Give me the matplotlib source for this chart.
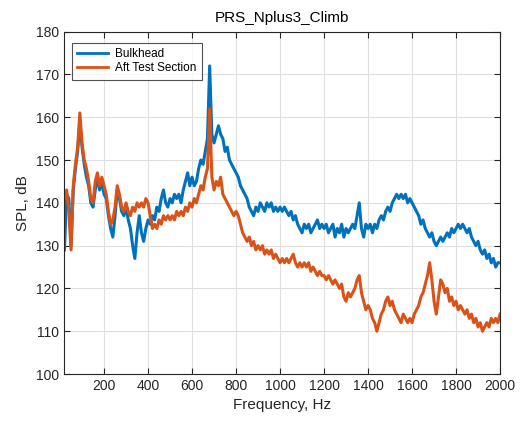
import numpy as np
from matplotlib import pyplot as plt

plt.rcParams['font.family'] = ['Liberation Sans', 'DejaVu Sans']

freq = np.arange(20, 2001, 10)

bulkhead = [129, 142, 141, 130, 143, 148, 152, 159, 153, 149,
            146, 144, 140, 139, 143, 146, 143, 145, 142, 141,
            137, 134, 132, 137, 143, 141, 138, 137, 139, 136,
            134, 130, 127, 133, 137, 133, 131, 134, 136, 135,
            137, 136, 139, 138, 141, 143, 140, 139, 141, 140,
            142, 141, 142, 140, 143, 145, 147, 144, 146, 144,
            145, 148, 150, 149, 152, 155, 172, 156, 154, 156,
            158, 156, 155, 152, 153, 150, 149, 148, 147, 146,
            144, 143, 142, 141, 139, 138, 137, 139, 138, 140,
            139, 138, 140, 139, 140, 138, 139, 138, 139, 138,
            139, 138, 137, 138, 136, 137, 135, 134, 133, 135,
            134, 135, 133, 134, 135, 136, 134, 135, 134, 135,
            133, 134, 135, 132, 134, 133, 135, 132, 134, 133,
            134, 135, 134, 137, 140, 134, 132, 135, 134, 135,
            133, 135, 134, 136, 137, 136, 138, 139, 138, 140,
            141, 142, 141, 142, 141, 142, 140, 141, 140, 139,
            138, 137, 135, 136, 134, 133, 132, 133, 131, 130,
            131, 132, 131, 132, 133, 132, 134, 133, 134, 135,
            134, 135, 134, 133, 134, 132, 131, 130, 131, 129,
            128, 129, 127, 128, 126, 127, 125, 126, 126]

aft = [141, 143, 138, 129, 144, 149, 153, 161, 154, 150,
       148, 145, 141, 140, 145, 147, 144, 146, 144, 142,
       138, 135, 136, 139, 144, 142, 139, 138, 140, 138,
       137, 139, 138, 140, 139, 140, 139, 141, 140, 137,
       134, 135, 134, 136, 135, 137, 136, 137, 136, 137,
       136, 138, 137, 138, 137, 139, 138, 140, 139, 141,
       140, 142, 144, 143, 146, 148, 162, 146, 143, 145,
       144, 146, 142, 141, 140, 139, 138, 137, 138, 137,
       135, 133, 132, 131, 132, 130, 131, 129, 130, 129,
       130, 128, 129, 128, 129, 127, 128, 127, 126, 127,
       126, 127, 126, 127, 128, 126, 125, 126, 125, 126,
       125, 126, 124, 125, 124, 123, 124, 123, 123, 122,
       123, 122, 121, 122, 121, 120, 121, 118, 117, 119,
       118, 119, 120, 122, 123, 119, 117, 115, 116, 115,
       113, 112, 110, 112, 114, 115, 117, 118, 116, 117,
       115, 114, 113, 112, 114, 113, 112, 113, 112, 114,
       115, 116, 118, 119, 121, 123, 126, 122, 117, 114,
       118, 122, 121, 119, 120, 117, 118, 116, 117, 115,
       116, 115, 114, 115, 113, 114, 112, 113, 111, 112,
       110, 111, 112, 111, 113, 112, 113, 112, 114]

fig = plt.figure(figsize=(5.22, 4.22), dpi=100)
ax = fig.add_axes([0.1226, 0.1137, 0.8354, 0.8113])

ax.plot(freq, bulkhead, color='#0072BD', linewidth=2.2, label='Bulkhead')
ax.plot(freq, aft, color='#D95319', linewidth=2.2, label='Aft Test Section')

ax.set_xlim(18, 2000)
ax.set_ylim(100, 180)
ax.set_xticks(np.arange(200, 2001, 200))
ax.set_yticks(np.arange(100, 181, 10))
ax.tick_params(direction='in', top=True, right=True, labelsize=10,
               colors='#262626', length=4)
for s in ax.spines.values():
    s.set_color('#262626')
    s.set_linewidth(0.8)
ax.grid(True, color='#dfdfdf', linewidth=0.8)
ax.set_axisbelow(True)

ax.set_xlabel('Frequency, Hz', fontsize=11, color='#262626')
ax.set_ylabel('SPL, dB', fontsize=11, color='#262626')
ax.set_title('PRS_Nplus3_Climb', fontsize=11, color='#000000', pad=7)

leg = ax.legend(loc='upper left', fontsize=8.5, frameon=True, fancybox=False,
                edgecolor='#262626', handlelength=2.6, borderpad=0.45,
                labelspacing=0.2, handletextpad=0.6,
                bbox_to_anchor=(0.005, 0.985))
leg.get_frame().set_linewidth(0.8)
for line in leg.get_lines():
    line.set_linewidth(2.0)

fig.savefig('out.png', dpi=100)
